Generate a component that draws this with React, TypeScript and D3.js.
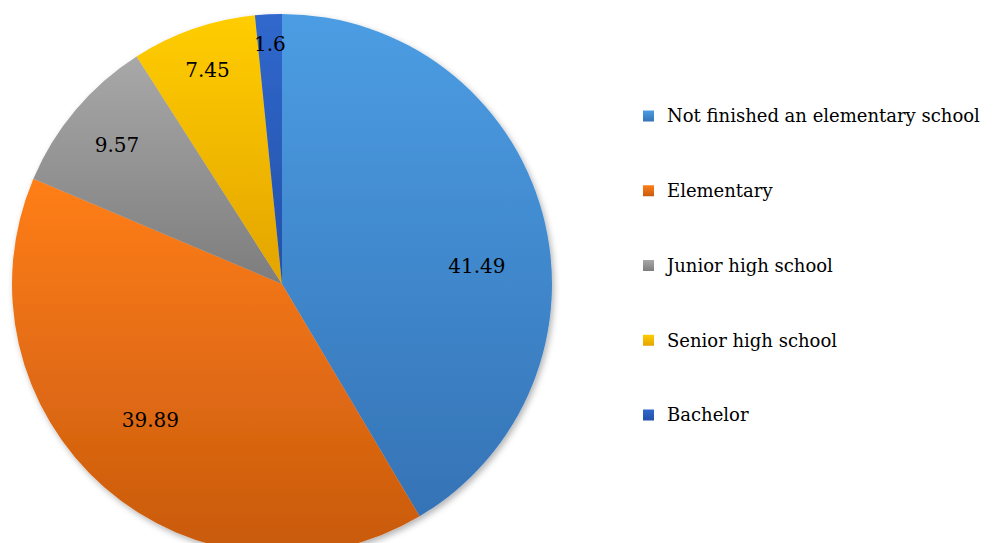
import * as React from 'react';
import * as d3 from 'd3';

const categories = [
  'Not finished an elementary school',
  'Elementary',
  'Junior high school',
  'Senior high school',
  'Bachelor',
];
const values = [41.49, 39.89, 9.57, 7.45, 1.6];
const labels = ['41.49', '39.89', '9.57', '7.45', '1.6'];
const topColors = ['#4c9de3', '#ff7e18', '#a8a8a8', '#ffcd00', '#3068cd'];
const bottomColors = ['#3573b6', '#c85a0e', '#7d7d7d', '#e3a400', '#2450a8'];
// where each value label sits: fraction of radius and an angle nudge (degrees)
const labelRadius = [0.725, 0.7, 0.8, 0.84, 0.89];
const labelNudge = [10, 3, 0, 0, 0];

const W = 997;
const H = 543;
const cx = 282;
const cy = 284;
const R = 270;
const FONT = 'DejaVu Serif';

export default function App() {
  const pie = d3.pie<number>().sort(null).value(d => d);
  const arcs = pie(values);
  const arc = d3.arc<d3.PieArcDatum<number>>().innerRadius(0).outerRadius(R);

  const legendY = d3.scaleLinear().domain([0, categories.length - 1]).range([116, 415]);

  return (
    <svg width={W} height={H} style={{ position: 'absolute', left: 0, top: 0, background: '#fff' }}>
      <defs>
        {categories.map((c, i) => (
          <linearGradient key={c} id={'g' + i} x1="0" y1="0" x2="0" y2="1">
            <stop offset="0%" stopColor={topColors[i]} />
            <stop offset="100%" stopColor={bottomColors[i]} />
          </linearGradient>
        ))}
        <filter id="shadow" x="-10%" y="-10%" width="120%" height="120%">
          <feDropShadow dx="2" dy="3" stdDeviation="3" floodColor="#000" floodOpacity="0.3" />
        </filter>
      </defs>

      <g transform={`translate(${cx},${cy})`}>
        <g filter="url(#shadow)">
          {arcs.map((a, i) => (
            <path key={i} d={arc(a) || ''} fill={`url(#g${i})`} />
          ))}
        </g>
        {arcs.map((a, i) => {
          const mid = (a.startAngle + a.endAngle) / 2 + (labelNudge[i] * Math.PI) / 180;
          const r = labelRadius[i] * R;
          return (
            <text
              key={'l' + i}
              x={r * Math.sin(mid)}
              y={-r * Math.cos(mid)}
              dy="0.36em"
              textAnchor="middle"
              fontFamily={FONT}
              fontSize={20}
              fill="#000"
            >
              {labels[i]}
            </text>
          );
        })}
      </g>

      <g>
        {categories.map((c, i) => (
          <g key={c} transform={`translate(643,${legendY(i)})`}>
            <rect x={0} y={-5.5} width={11} height={11} fill={`url(#g${i})`} />
            <text x={24} y={0} dy="0.36em" fontFamily={FONT} fontSize={18} fill="#000">
              {c}
            </text>
          </g>
        ))}
      </g>
    </svg>
  );
}
